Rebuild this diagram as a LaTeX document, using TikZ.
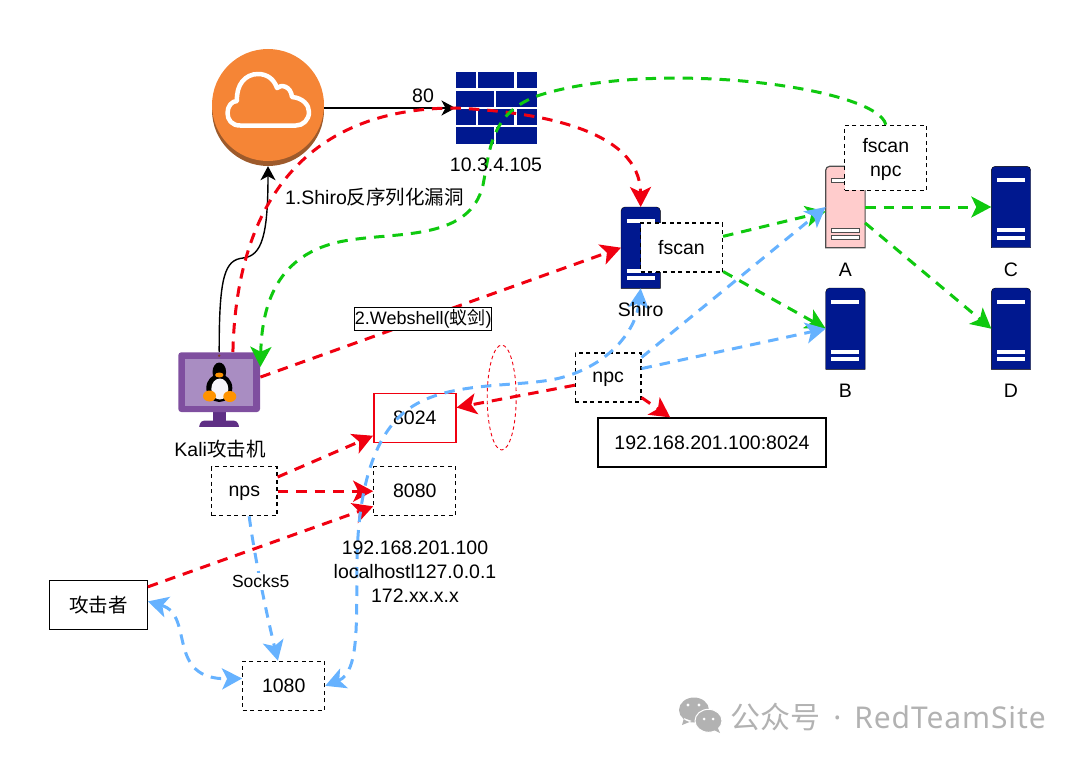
\documentclass[tikz,border=0pt]{standalone}
\usepackage{fontspec}
\setmainfont{Liberation Sans}
\newfontfamily\cjk{Noto Sans CJK SC}
\newfontfamily\wmfont[LetterSpace=3]{Noto Sans}
\usetikzlibrary{arrows.meta,calc,shapes.geometric}
\definecolor{Dnavy}{HTML}{00188F}
\definecolor{Dred}{HTML}{F00010}
\definecolor{Dgreen}{HTML}{0FC90F}
\definecolor{Dblue}{HTML}{66B2FF}
\definecolor{Dpink}{HTML}{FFCCCC}
\definecolor{Dgrey}{HTML}{4D4D4D}
\definecolor{Dorange}{HTML}{F58536}
\definecolor{Dbrown}{HTML}{9D5A2B}
\definecolor{Dframe}{HTML}{7F4F9F}
\definecolor{Dscreen}{HTML}{A98DC2}
\definecolor{Dstand}{HTML}{5F2F85}
\definecolor{Dmark}{HTML}{B2B2B2}
\tikzset{%
    Dtext/.style={font=\fontsize{19.5}{24}\selectfont, align=center, inner sep=0pt},
    Dbox/.style={Dtext, draw=black, minimum width=#1, minimum height=49pt, line width=1.2pt},
    Dbox/.default={82pt},
    Ddash/.style={Dbox=#1, dashed, dash pattern=on 4pt off 3.5pt},
    Ddash/.default={82pt},
    Dicon/.style={inner sep=0pt, minimum width=39pt, minimum height=81pt},
    Dflow/.style={line width=3pt, dash pattern=on 10.5pt off 8pt,
        >={Stealth[length=20pt,width=21pt,inset=5pt]}},
    Dplain/.style={line width=1.4pt, >={Stealth[length=14pt,width=15pt,inset=4pt]}}
}
\newcommand{\srvicon}[5]{
    % body with round top, then the three bars
    \node [Dicon] (#1) at (#2,#3) {};
    \draw [#4] (#1.south west) [rounded corners=4pt] -- (#1.north west)
        -- (#1.north east) [sharp corners] -- (#1.south east) -- cycle;
    \foreach \d in {-27,23,30.5}
        \draw [#5] ($(#1.center)+(-14,\d-2)$) rectangle ($(#1.center)+(14,\d+2)$);
}
\begin{document}
\begin{tikzpicture}[x=1pt,y=-1pt]
    \useasboundingbox (0,0) rectangle (1080,760);

    % cloud
    \node [circle, fill=Dbrown, inner sep=0pt, minimum size=112pt] (cloud) at (268,110) {};
    \fill [Dorange] ($(cloud.center)+(0,-5)$) circle (56);
    \draw [white, line width=4.5pt, line join=round]
        (240,125.5) .. controls (232,125.5) and (227.5,120) .. (227.5,113)
        .. controls (227.5,106) and (232,101) .. (237,101)
        .. controls (236,85) and (245,74) .. (258,74)
        .. controls (267,74) and (274,79) .. (277,88)
        .. controls (281,84) and (291,86) .. (292,97)
        .. controls (303,98) and (309,105) .. (309,112)
        .. controls (309,120) and (303,125.5) .. (296,125.5) -- cycle;

    % firewall
    \node [inner sep=0pt, minimum width=81pt, minimum height=71.5pt] (fire) at (496.2,108) {};
    \foreach \xa/\xb/\ya/\yb in
            {455.7/475.7/72.3/88.3,    478/514/72.3/88.3,      516.7/536.7/72.3/88.3,
             455.7/493.7/91/106.7,     496.3/536.7/91/106.7,
             455.7/475.7/109.3/125,    478/514/109.3/125,      516.7/536.7/109.3/125,
             455.7/493.7/127.3/143.7,  496.3/536.7/127.3/143.7}
        \fill [Dnavy] (\xa,\ya) rectangle (\xb,\yb);

    % servers
    \srvicon{srvS}{640.7}{247.7}{fill=Dnavy}{fill=white, draw=none}
    \srvicon{srvA}{845.4}{207}{fill=Dpink, draw=Dgrey, line width=1.2pt}{fill=white, draw=Dgrey, line width=1pt}
    \srvicon{srvB}{845.4}{328.7}{fill=Dnavy}{fill=white, draw=none}
    \srvicon{srvC}{1011}{207}{fill=Dnavy}{fill=white, draw=none}
    \srvicon{srvD}{1011}{328.7}{fill=Dnavy}{fill=white, draw=none}

    % kali monitor
    \node [inner sep=0pt, minimum width=82pt, minimum height=75pt] (kali) at (219.2,389.7) {};
    \fill [Dstand] (212.7,410) rectangle (225.7,422);
    \fill [Dstand, rounded corners=3pt] (198.3,429) -- (201,420.7) -- (237,420.7) -- (240,429) -- cycle;
    \fill [white] (190,427) rectangle (250,432);
    \fill [Dframe, rounded corners=3pt] (178.3,352.3) rectangle (260,412);
    \fill [Dscreen] (185,359.3) rectangle (253.3,406);
    \fill [black!70!Dframe!60!orange] (219.2,355.7) circle (1.3);
    \fill [black] (219.3,372) ellipse (6.8 and 9.5);
    \fill [black] (219.3,388) ellipse (13 and 14);
    \fill [white!90!Dscreen] (219.8,389) ellipse (8.5 and 10.5);
    \fill [orange!85!yellow] (209.5,396) ellipse (6.5 and 5.5) (229.8,396.5) ellipse (6.5 and 5.5);
    \fill [orange!85!yellow] (219.3,375) ellipse (4.2 and 2.5);

    % boxes
    \node [Dbox=98pt] (atk) at (98.3,604.9) {{\cjk 攻击者}};
    \node [Dbox=82pt, draw=Dred, line width=1.6pt] (p8024) at (414.8,418) {8024};
    \node [Ddash] (p8080) at (414.8,491.2) {8080};
    \node [Ddash=65.5pt, text depth=0pt] (nps) at (244.3,491.2) {nps};
    \node [Ddash] (p1080) at (283.7,685.8) {1080};
    \node [Ddash=65.5pt, text depth=0pt] (npc) at (608.2,377.5) {npc};
    \node [Dbox=228pt] (ipbox) at (712,442.5) {192.168.201.100:8024};
    \node [Ddash, fill=white] (fsS) at (681.5,247.5) {fscan};
    \node [Ddash, fill=white, minimum height=65pt, text depth=0pt] (fsA) at (885.8,157.8) {fscan\\npc};
    \node [ellipse, draw=Dred, line width=0.9pt, dashed, dash pattern=on 3.5pt off 3pt,
        inner sep=0pt, minimum width=29pt, minimum height=105pt] (ring) at (501.7,397.5) {};

    % black links
    \draw [Dplain, ->] (cloud.east |- fire.west) -- (fire.west);
    \draw [Dplain, ->] (kali.north) .. controls (219,275) and (225,260) .. (243,258)
        .. controls (262,256) and (268,235) .. (cloud.south);

    % red links
    \draw [Dflow, Dred, ->] (kali.70) .. controls (236,210) and (300,108) .. (fire.west)
        .. controls (540,112) and (640,130) .. (srvS.north);
    \foreach \cA/\cB in
            {kali.17/srvS.west,    nps.23/p8024.203,    nps.east/p8080.west,
             atk.20/p8080.200,     npc.193/p8024.14,    npc.-31/ipbox.149}
        \draw [Dflow, Dred, ->] (\cA) -- (\cB);

    % green links
    \draw [Dflow, Dgreen, ->] (fsA.north) .. controls (878,88) and (660,58) .. (540,95)
        .. controls (490,112) and (490,150) .. (483,185)
        .. controls (470,240) and (400,232) .. (350,240)
        .. controls (280,250) and (262,300) .. (kali.29);
    \foreach \cA/\cB in
            {fsS.15/srvA.193,    fsS.-30/srvB.west,
             srvA.east/srvC.west,    srvA.-39/srvD.west}
        \draw [Dflow, Dgreen, ->] (\cA) -- (\cB);

    % blue links
    \draw [Dflow, Dblue, <->] (srvS.south) .. controls (636,330) and (610,365) .. (560,378)
        .. controls (520,388) and (450,380) .. (410,408)
        .. controls (370,435) and (358,500) .. (357,560)
        .. controls (356,620) and (360,672) .. (p1080.east);
    \draw [Dflow, Dblue, ->] (nps.-79) .. controls (255,560) and (268,620) .. (p1080.103);
    \draw [Dflow, Dblue, <->] (atk.4) .. controls (195,615) and (165,680) .. (p1080.170);
    \foreach \cA/\cB in {npc.31/srvA.west, npc.15/srvB.west}
        \draw [Dflow, Dblue, ->] (\cA) -- (\cB);

    % labels
    \node [Dtext] (lb80) at (423,95.5) {80};
    \node [Dtext] (lbfire) at (496,165) {10.3.4.105};
    \node [Dtext] (lbshiro) at (374.5,197.5) {1.Shiro{\cjk 反序列化漏洞}};
    \node [Dtext, draw=black, fill=white, line width=0.9pt, minimum width=137pt, minimum height=23pt,
        font=\fontsize{18}{22}\selectfont] (lbweb) at (423.2,319) {2.Webshell({\cjk 蚁剑})};
    \node [Dtext] (lbkali) at (220,449) {Kali{\cjk 攻击机}};
    \node [Dtext] (lbS) at (640.7,310) {Shiro};
    \node [Dtext] (lbA) at (845.4,269.5) {A};
    \node [Dtext] (lbB) at (845.4,391) {B};
    \node [Dtext] (lbC) at (1011,269.5) {C};
    \node [Dtext] (lbD) at (1011,391) {D};
    \node [Dtext, fill=white, inner sep=2pt, font=\fontsize{17.5}{22}\selectfont] (lbsocks) at (260.7,581.7) {Socks5};
    \node [Dtext] (lbaddr) at (415,571.5) {192.168.201.100\\localhostl127.0.0.1\\172.xx.x.x};

    % watermark
    \fill [Dmark] (694,710) ellipse (15 and 12.5) (684,718) -- (682,725) -- (692,721) -- cycle;
    \draw [Dmark, fill=Dmark, draw=white, line width=1pt] (708.5,720.8) ellipse (13.5 and 11.5);
    \fill [Dmark] (714,730) -- (720,733) -- (717,726) -- cycle;
    \fill [white] (688,705) circle (1.7) (699,705) circle (1.7) (704,719) circle (1.5) (713,719) circle (1.5);
    \node [inner sep=0pt, text=Dmark, font=\wmfont\fontsize{30}{34}\selectfont] (mark) at (888,717)
        {{\cjk 公众号}\hspace{13pt}·\hspace{13pt}RedTeamSite};
\end{tikzpicture}
\end{document}
